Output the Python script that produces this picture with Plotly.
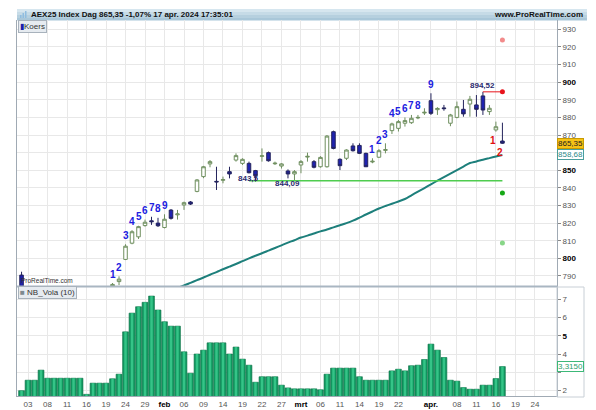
import plotly.graph_objects as go

# ---------------- data ----------------
dates = [
    "2024-01-02", "2024-01-03", "2024-01-04", "2024-01-05", "2024-01-08", "2024-01-09", "2024-01-10",
    "2024-01-11", "2024-01-12", "2024-01-15", "2024-01-16", "2024-01-17", "2024-01-18", "2024-01-19",
    "2024-01-22", "2024-01-23", "2024-01-24", "2024-01-25", "2024-01-26", "2024-01-29", "2024-01-30",
    "2024-01-31",
    "2024-02-01", "2024-02-02", "2024-02-05", "2024-02-06", "2024-02-07", "2024-02-08", "2024-02-09",
    "2024-02-12", "2024-02-13", "2024-02-14", "2024-02-15", "2024-02-16", "2024-02-19", "2024-02-20",
    "2024-02-21", "2024-02-22", "2024-02-23", "2024-02-26", "2024-02-27", "2024-02-28", "2024-02-29",
    "2024-03-01", "2024-03-04", "2024-03-05", "2024-03-06", "2024-03-07", "2024-03-08", "2024-03-11",
    "2024-03-12", "2024-03-13", "2024-03-14", "2024-03-15", "2024-03-18", "2024-03-19", "2024-03-20",
    "2024-03-21", "2024-03-22", "2024-03-25", "2024-03-26", "2024-03-27", "2024-03-28",
    "2024-04-02", "2024-04-03", "2024-04-04", "2024-04-05", "2024-04-08", "2024-04-09", "2024-04-10",
    "2024-04-11", "2024-04-12", "2024-04-15", "2024-04-16", "2024-04-17",
]
future_dates = ["2024-04-18", "2024-04-19", "2024-04-22", "2024-04-23", "2024-04-24",
                "2024-04-25", "2024-04-26", "2024-04-29"]

opens = [790.5, 780, 775, 777, 777, 780, 777, 778, 781, 778, 775, 767, 766, 773,
         783, 786.8, 799.4, 808.6, 812.2, 818.6, 821.3, 820,
         817.5, 827.4, 824.7, 830.3, 832, 838, 846.4, 853.6, 843.7, 844.3, 849.2, 855.8, 853.9, 853.9,
         849.8, 857.9, 860, 853.7, 852.4, 849.6, 847.9,
         853, 857.5, 854.9, 852, 852, 871.9, 856.2, 856.8, 863.8, 864.1, 859.6, 854.7, 857.4, 861.3,
         872.5, 873.8, 876.7, 877, 879.7, 882.5,
         889.5, 884.4, 885.4, 876.7, 880, 884.6, 887.6, 887.1, 892.2, 883.3, 872.9, 866.6]
highs = [792.4, 781.5, 780, 781, 782, 782, 780, 782, 783, 780, 776, 770, 773, 782,
         786, 789.8, 808, 816, 818.5, 822, 823.6, 823,
         825, 828, 827.5, 832.2, 832.5, 845, 852.5, 855.8, 852, 846.4, 852, 859.6, 856.8, 854.9,
         850.2, 862.4, 860.6, 854.9, 854, 850.5, 850.1,
         855.8, 860, 855.8, 858, 870, 872.5, 856.8, 861.9, 865.3, 865.3, 860, 856.8, 862, 865.3,
         877, 878.5, 880, 881.4, 881.4, 885.2,
         893.7, 885.8, 887.1, 882, 889, 889.9, 892.2, 892.7, 894.52, 887, 877.6, 877]
lows = [778, 772, 773, 774, 774, 776, 773, 775, 777, 774, 766, 763, 765, 772,
        781, 784.8, 799, 808, 811, 818, 819, 817.8,
        817, 822, 822, 827.5, 830.3, 837.5, 845.5, 851.7, 838.8, 842.6, 845.4, 854.9, 853, 848.2,
        843.5, 854.9, 854.9, 853, 851, 845.4, 844.09,
        848.3, 854.9, 851.1, 851.5, 851.5, 861.9, 850.1, 855.8, 860.6, 859.2, 852, 854, 857, 859.6,
        870.6, 872, 874.8, 876.3, 879, 881.4,
        881.4, 881.4, 883.8, 875, 879.5, 880.4, 880.4, 880.4, 881.4, 881.4, 871.9, 865]
closes = [780, 774, 778, 776, 781, 778, 776, 780, 779, 776, 768, 765, 771, 781,
          785.2, 788.2, 806.9, 815.1, 818, 820.5, 820.8, 818.5,
          822.2, 822.7, 825.2, 831.6, 830.8, 844.5, 852, 854.9, 843.4, 844.7, 847.9, 858.3, 856.2, 848.6,
          846.9, 858.2, 855.4, 854, 853.6, 847.9, 849.2,
          854.9, 857.9, 851.7, 857.3, 869.4, 862.4, 852.6, 861.5, 861.1, 859.6, 852, 855.1, 861.1, 861.7,
          876.3, 877.6, 878.2, 879.5, 880, 882.9,
          882.3, 885.1, 885, 881.4, 886.1, 882, 890.3, 884.6, 884.2, 885.2, 874.7, 865.35]

vola = [2.0, 2.57, 2.57, 3.12, 2.68, 2.68, 2.68, 2.68, 2.68, 2.68, 1.8, 2.41, 2.41, 2.41,
        2.65, 2.9, 5.21, 6.23, 6.58, 6.82, 7.16, 6.4,
        5.76, 5.52, 5.52, 4.12, 2.95, 4.0, 4.21, 4.61, 4.61, 4.61, 4.0, 4.38, 3.72, 3.39,
        2.46, 2.76, 2.76, 2.76, 2.3, 2.15, 2.1,
        2.1, 2.1, 2.1, 2.05, 2.9, 3.23, 3.23, 3.23, 3.23, 2.76, 2.57, 2.57, 2.57, 2.57,
        3.08, 3.17, 3.08, 3.36, 3.39, 3.7,
        4.54, 4.21, 3.81, 2.57, 2.52, 2.17, 2.08, 2.08, 2.3, 2.3, 2.66, 3.315]

ma_first_date = "2024-02-01"
ma_values = [780.1, 781.7, 783.2, 784.6, 786.1, 787.6, 789.1, 790.7, 792.2, 793.8, 795.3, 796.8,
             798.4, 800.0, 801.5, 802.9, 804.4, 805.9, 807.4, 808.9, 810.3, 811.8, 812.9, 814.1,
             815.3, 816.4, 817.6, 818.8, 820.0, 821.4, 823.1, 824.9, 826.6, 828.3, 829.7, 831.0,
             832.3, 833.7, 835.8, 837.9, 839.9, 842.0, 844.1, 846.1, 848.1, 850.1, 852.1, 854.1,
             855.0, 856.0, 856.9, 857.8, 858.68]

td_blue_dates = ["2024-01-22", "2024-01-23", "2024-01-24", "2024-01-25", "2024-01-26", "2024-01-29",
                 "2024-01-30", "2024-01-31", "2024-02-01",
                 "2024-03-18", "2024-03-19", "2024-03-20", "2024-03-21", "2024-03-22", "2024-03-25",
                 "2024-03-26", "2024-03-27", "2024-04-02"]
td_blue_labels = ["1", "2", "3", "4", "5", "6", "7", "8", "9",
                  "1", "2", "3", "4", "5", "6", "7", "8", "9"]
td_red_dates = ["2024-04-16", "2024-04-17"]
td_red_labels = ["1", "2"]

low_label_dates = ["2024-02-20", "2024-02-28"]
low_label_texts = ["843,5", "844,09"]
high_label_date = "2024-04-12"
high_label_text = "894,52"

support_level = 844.09
support_start = "2024-02-20"
resistance_level = 894.52
resistance_start = "2024-04-12"
signal_levels = [923.9, 894.52, 837.1, 808.7]
signal_colors = ["#f28b8b", "#e8141c", "#16a816", "#88d688"]

tick_dates = ["2024-01-03", "2024-01-08", "2024-01-11", "2024-01-16", "2024-01-19", "2024-01-24",
              "2024-01-29", "2024-02-01", "2024-02-06", "2024-02-09", "2024-02-14", "2024-02-19",
              "2024-02-22", "2024-02-27", "2024-03-01", "2024-03-06", "2024-03-11", "2024-03-14",
              "2024-03-19", "2024-03-22", "2024-04-02", "2024-04-08", "2024-04-11", "2024-04-16",
              "2024-04-19", "2024-04-24"]
tick_labels = ["03", "08", "11", "16", "19", "24", "29", "feb", "06", "09", "14", "19", "22", "27",
               "mrt", "06", "11", "14", "19", "22", "apr.", "08", "11", "16", "19", "24"]
month_labels = ["feb", "mrt", "apr."]

price_ticks = [790, 800, 810, 820, 830, 840, 850, 860, 870, 880, 890, 900, 910, 920, 930]
price_bold = [800, 850, 900]
price_hidden = [860]          # covered by the value boxes in the original
vola_ticks = [2, 3, 4, 5, 6, 7]
vola_bold = [5]
vola_hidden = [3]

title_text = "AEX25 Index Dag 865,35 -1,07% 17 apr. 2024 17:35:01"
site_text = "www.ProRealTime.com"
last_price_text = "865,35"
last_ma_text = "858,68"
last_vola_text = "3,3150"

# ---------------- helpers ----------------
calendar = dates + future_dates
xs = list(range(len(dates)))
W, H = 596, 410
ML, MR, MT, MB = 17, 39, 20, 14
PW = W - ML - MR
PH = H - MT - MB


def px_x(px):
    return (px - ML) / PW


def px_y(py):
    return (H - MB - py) / PH


FONT = "Liberation Sans, Arial, sans-serif"
last_i = len(dates) - 1

fig = go.Figure()

fig.add_trace(go.Candlestick(
    x=xs, open=opens, high=highs, low=lows, close=closes,
    increasing=dict(line=dict(color="#6f8f5f", width=1), fillcolor="#ffffff"),
    decreasing=dict(line=dict(color="#24245c", width=1), fillcolor="#1f22b0"),
    xaxis="x", yaxis="y", showlegend=False, hoverinfo="skip"))

ma_i0 = calendar.index(ma_first_date)
fig.add_trace(go.Scatter(
    x=[ma_i0 + k for k in range(len(ma_values))], y=ma_values, mode="lines",
    line=dict(color="#1d7f7b", width=2, shape="spline", smoothing=0.8),
    xaxis="x", yaxis="y", hoverinfo="skip"))

fig.add_trace(go.Scatter(
    x=[calendar.index(support_start), last_i], y=[support_level, support_level], mode="lines",
    line=dict(color="#4fcc4f", width=1.5), xaxis="x", yaxis="y", hoverinfo="skip"))
fig.add_trace(go.Scatter(
    x=[calendar.index(resistance_start), last_i], y=[resistance_level, resistance_level], mode="lines",
    line=dict(color="#e8141c", width=1), xaxis="x", yaxis="y", hoverinfo="skip"))
fig.add_trace(go.Scatter(
    x=[last_i] * len(signal_levels), y=signal_levels, mode="markers",
    marker=dict(color=signal_colors, size=5), xaxis="x", yaxis="y", hoverinfo="skip"))

fig.add_trace(go.Bar(
    x=xs, y=vola, width=0.9, xaxis="x2", yaxis="y2",
    marker=dict(color="#129760", line=dict(color="#0c6e45", width=0.6)), hoverinfo="skip"))
fig.add_trace(go.Bar(
    x=xs, y=vola, width=0.38, xaxis="x2", yaxis="y2",
    marker=dict(color="#34c487", line=dict(width=0)), hoverinfo="skip"))

tickvals = [calendar.index(d) for d in tick_dates]
ticktext = [("<b><span style='color:#000'>%s</span></b>" % t) if t in month_labels else t
            for t in tick_labels]
x_range = [-0.7, 82.4]

ann = []
for d, lab in zip(td_blue_dates, td_blue_labels):
    i = calendar.index(d)
    ann.append(dict(x=i, y=highs[i], xref="x", yref="y", text="<b>%s</b>" % lab, showarrow=False,
                    yshift=9, font=dict(family=FONT, size=10, color="#2020e0")))
for d, lab in zip(td_red_dates, td_red_labels):
    i = calendar.index(d)
    ann.append(dict(x=i - 0.4, y=lows[i], xref="x", yref="y", text="<b>%s</b>" % lab, showarrow=False,
                    yshift=-9, font=dict(family=FONT, size=10, color="#e01010")))
for d, lab in zip(low_label_dates, low_label_texts):
    i = calendar.index(d)
    ann.append(dict(x=i, y=lows[i], xref="x", yref="y", text="<b>%s</b>" % lab, showarrow=False,
                    yanchor="top", yshift=1, font=dict(family=FONT, size=8, color="#2a2a6e")))
hi = calendar.index(high_label_date)
ann.append(dict(x=hi, y=highs[hi], xref="x", yref="y", text="<b>%s</b>" % high_label_text,
                showarrow=False, yanchor="bottom", yshift=0,
                font=dict(family=FONT, size=8, color="#2a2a6e")))

# title bar texts
ann.append(dict(x=px_x(29), y=px_y(14.5), xref="paper", yref="paper", xanchor="left", yanchor="middle",
                text="<b>%s</b>" % title_text, showarrow=False, font=dict(family=FONT, size=8, color="#111")))
ann.append(dict(x=px_x(585), y=px_y(14.5), xref="paper", yref="paper", xanchor="right", yanchor="middle",
                text="<b>%s</b>" % site_text, showarrow=False, font=dict(family=FONT, size=8, color="#111")))

# legends
ann.append(dict(x=px_x(18), y=px_y(27), xref="paper", yref="paper", xanchor="left", yanchor="middle",
                text="<span style='color:#1c1caa'>▮</span>Koers", showarrow=False,
                bgcolor="#e6ebf0", bordercolor="#a8b2bc", borderwidth=1, borderpad=1,
                font=dict(family=FONT, size=8, color="#333")))
ann.append(dict(x=px_x(18), y=px_y(292.5), xref="paper", yref="paper", xanchor="left", yanchor="middle",
                text="<span style='color:#7d8a90'>■</span> NB_Vola (10)", showarrow=False,
                bgcolor="#e6ebf0", bordercolor="#a8b2bc", borderwidth=1, borderpad=1,
                font=dict(family=FONT, size=8, color="#333")))
ann.append(dict(x=px_x(19), y=px_y(280.5), xref="paper", yref="paper", xanchor="left", yanchor="middle",
                text="ProRealTime.com", showarrow=False, font=dict(family=FONT, size=6.5, color="#333")))

# right side value boxes
ann.append(dict(x=1.0, y=closes[-1], xref="paper", yref="y", xanchor="left", yanchor="middle",
                text=last_price_text, showarrow=False, bgcolor="#f6c315", bordercolor="#c89a00",
                borderwidth=1, borderpad=0, font=dict(family=FONT, size=8, color="#222")))
ann.append(dict(x=1.0, y=ma_values[-1], xref="paper", yref="y", xanchor="left", yanchor="middle",
                text=last_ma_text, showarrow=False, bgcolor="#ffffff", bordercolor="#4a9e9c",
                borderwidth=1, borderpad=0, font=dict(family=FONT, size=8, color="#2d8a88")))
ann.append(dict(x=1.0, y=vola[-1], xref="paper", yref="y2", xanchor="left", yanchor="middle",
                text=last_vola_text, showarrow=False, bgcolor="#ffffff", bordercolor="#3cb878",
                borderwidth=1, borderpad=0, font=dict(family=FONT, size=8, color="#2aa06a")))

shapes = []
strip_cols = ["#d6e6ef", "#c6dbe7", "#b6d0df", "#a9c7d9"]
edges = [9, 12, 15, 18, 20.5]
for k, c in enumerate(strip_cols):
    shapes.append(dict(type="rect", xref="paper", yref="paper", x0=0, x1=px_x(587),
                       y0=px_y(edges[k + 1]), y1=px_y(edges[k]), fillcolor=c, line=dict(width=0),
                       layer="below"))
# small chart icon in title bar
icon_h = [3, 5, 7]
for k, hgt in enumerate(icon_h):
    shapes.append(dict(type="rect", xref="paper", yref="paper", x0=px_x(20 + 2.5 * k),
                       x1=px_x(21.5 + 2.5 * k), y0=px_y(18), y1=px_y(18 - hgt),
                       fillcolor="#8fbde0", line=dict(width=0)))
shapes.append(dict(type="line", xref="paper", yref="paper", x0=0, x1=1, y0=px_y(286.5), y1=px_y(286.5),
                   line=dict(color="#a9b6c2", width=2)))
shapes.append(dict(type="rect", xref="paper", yref="paper", x0=1, x1=px_x(584), y0=px_y(397),
                   y1=px_y(287), line=dict(color="#c8cfd6", width=1)))

ytext = [("<b><span style='color:#000'>%d</span></b>" % v) if v in price_bold
         else ("" if v in price_hidden else str(v)) for v in price_ticks]
y2text = [("<b><span style='color:#000'>%d</span></b>" % v) if v in vola_bold
          else ("" if v in vola_hidden else str(v)) for v in vola_ticks]

fig.update_layout(
    width=W, height=H, margin=dict(l=ML, r=MR, t=MT, b=MB, autoexpand=False),
    paper_bgcolor="white", plot_bgcolor="white", showlegend=False, barmode="overlay",
    boxgap=0.22,
    font=dict(family=FONT, size=8, color="#555"),
    xaxis=dict(domain=[0, 1], anchor="y", range=x_range, tickmode="array", tickvals=tickvals,
               ticktext=ticktext, showticklabels=False, showgrid=True, gridcolor="#e8e8e8",
               zeroline=False, rangeslider=dict(visible=False), showline=False, automargin=False),
    xaxis2=dict(domain=[0, 1], anchor="y2", range=x_range, tickmode="array", tickvals=tickvals,
                ticktext=ticktext, showgrid=True, gridcolor="#e8e8e8", zeroline=False,
                showline=True, linecolor="#a0aab4", mirror=True, ticks="", automargin=False,
                tickfont=dict(family=FONT, size=8, color="#555")),
    yaxis=dict(domain=[px_y(286), 1], anchor="x", side="right", range=[784.3, 935.3],
               tickmode="array", tickvals=price_ticks, ticktext=ytext, showgrid=True,
               gridcolor="#e8e8e8", zeroline=False, ticks="outside", ticklen=3, tickcolor="#888",
               showline=True, linecolor="#a0aab4", mirror=True, automargin=False,
               tickfont=dict(family=FONT, size=8, color="#555")),
    yaxis2=dict(domain=[0, px_y(287)], anchor="x2", side="right", range=[1.71, 7.656],
                tickmode="array", tickvals=vola_ticks, ticktext=y2text, showgrid=True,
                gridcolor="#e8e8e8", zeroline=False, ticks="outside", ticklen=3, tickcolor="#888",
                showline=True, linecolor="#a0aab4", mirror=True, automargin=False,
                tickfont=dict(family=FONT, size=8, color="#555")),
    annotations=ann, shapes=shapes,
)

fig.write_html("out.html")
